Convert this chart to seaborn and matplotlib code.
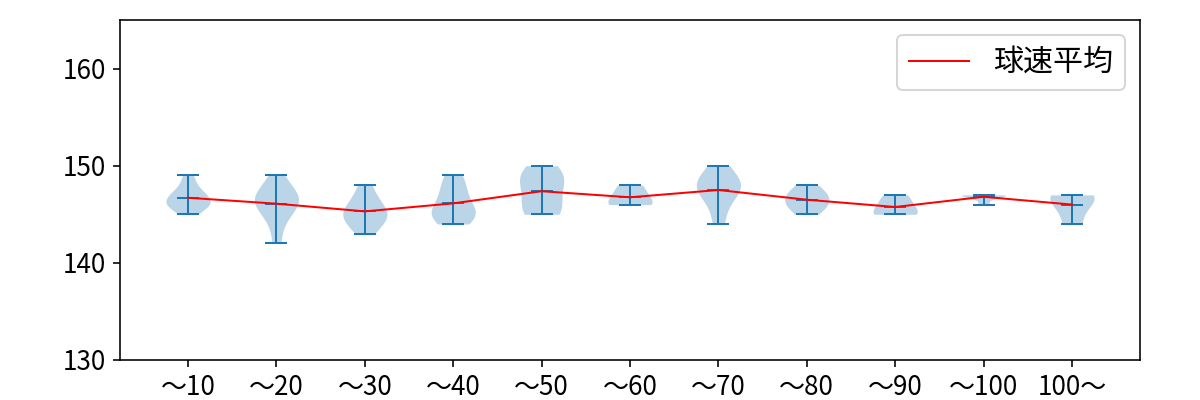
import numpy as np
import pandas as pd
import matplotlib
matplotlib.use("Agg")
import matplotlib.pyplot as plt
import seaborn as sns

plt.rcParams['font.family'] = ['Noto Sans CJK JP', 'DejaVu Sans']
plt.rcParams['font.size'] = 13

categories = ["～10", "～20", "～30", "～40", "～50", "～60", "～70", "～80", "～90", "～100", "100～"]

speeds_10 = [145, 146, 146, 146, 146, 147, 147, 147, 148, 149]
speeds_20 = [142, 144, 145, 146, 146, 146, 147, 147, 147, 148, 149]
speeds_30 = [143, 144, 144, 145, 145, 145, 146, 146, 147, 148]
speeds_40 = [144, 145, 145, 145, 146, 147, 148, 149]
speeds_50 = [145, 145, 146, 147, 148, 149, 149, 150]
speeds_60 = [146, 146, 147, 148]
speeds_70 = [144, 146, 147, 148, 148, 148, 149, 150]
speeds_80 = [145, 146, 146, 147, 147, 148]
speeds_90 = [145, 145, 146, 147]
speeds_100 = [146, 147, 147, 147, 147]
speeds_100p = [144, 146, 147, 147]

series = [speeds_10, speeds_20, speeds_30, speeds_40, speeds_50, speeds_60,
          speeds_70, speeds_80, speeds_90, speeds_100, speeds_100p]

legend_label = "球速平均"

rows = []
for cat, vals in zip(categories, series):
    for v in vals:
        rows.append({"cat": cat, "speed": v})
df = pd.DataFrame(rows)

fig, ax = plt.subplots(figsize=(1200 / 144, 400 / 144), dpi=144)
fig.subplots_adjust(left=0.1, right=0.95, top=0.95, bottom=0.1)

body_color = "#bbd5e8"
line_color = "#1f77b4"

sns.violinplot(data=df, x="cat", y="speed", order=categories, ax=ax,
               color=body_color, saturation=1, inner=None, cut=0,
               width=0.5, density_norm="width", linewidth=0,
               bw_method="scott", gridsize=100)

pos = np.arange(len(categories))
mins = np.array([np.min(s) for s in series])
maxs = np.array([np.max(s) for s in series])
means = np.array([np.mean(s) for s in series])

lw = 1.0
ax.vlines(pos, mins, maxs, color=line_color, linewidth=lw, zorder=3)
ax.hlines(mins, pos - 0.125, pos + 0.125, color=line_color, linewidth=lw, zorder=3)
ax.hlines(maxs, pos - 0.125, pos + 0.125, color=line_color, linewidth=lw, zorder=3)
ax.hlines(means, pos - 0.125, pos + 0.125, color=line_color, linewidth=lw, zorder=3)

ax.plot(pos, means, color="red", linewidth=1, label=legend_label, zorder=4)

ax.set_xlim(-0.77, len(categories) - 1 + 0.77)
ax.set_ylim(130, 165)
ax.set_yticks([130, 140, 150, 160])
ax.set_xlabel("")
ax.set_ylabel("")
ax.legend(loc="upper right", fontsize=15)

fig.savefig("out.png", dpi=144)
